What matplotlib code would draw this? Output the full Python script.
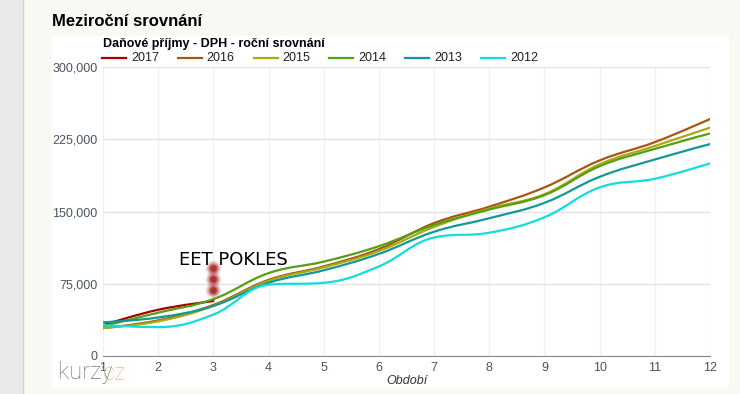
import matplotlib
matplotlib.use("Agg")
import matplotlib.pyplot as plt
from matplotlib.path import Path
from matplotlib.patches import PathPatch, Rectangle
from matplotlib.lines import Line2D
from matplotlib.ticker import FuncFormatter

# data (monthly cumulative VAT income)
months = [1, 2, 3, 4, 5, 6, 7, 8, 9, 10, 11, 12]
years = ["2017", "2016", "2015", "2014", "2013", "2012"]
v2017 = [32000, 48000, 57000]
v2016 = [29000, 37000, 53000, 79000, 93000, 111000, 138000, 155000, 175000, 203000, 222000, 246000]
v2015 = [29000, 36000, 52000, 78000, 92000, 109000, 134000, 153000, 168000, 199000, 218000, 237000]
v2014 = [31000, 45000, 59000, 86000, 98000, 114000, 136000, 152000, 167000, 197000, 215000, 231000]
v2013 = [35000, 40000, 52000, 76000, 89000, 106000, 129000, 143000, 159000, 186000, 204000, 220000]
v2012 = [32000, 30000, 43000, 74000, 76000, 93000, 123000, 128000, 144000, 175000, 184000, 200000]
series = [v2017, v2016, v2015, v2014, v2013, v2012]
colors = ["#a80000", "#aa5510", "#aaaa10", "#55a010", "#119999", "#11dddd"]
note_x = 3
note_y = [91000, 80000, 68000]


def spline_path(xs, ys):
    # Highcharts-like spline (smoothing 1.5)
    n = len(xs)
    left, right = [], []
    for i in range(n):
        x, y = xs[i], ys[i]
        if i == 0 or i == n - 1:
            left.append((x, y)); right.append((x, y)); continue
        lx = (1.5 * x + xs[i - 1]) / 2.5; ly = (1.5 * y + ys[i - 1]) / 2.5
        rx = (1.5 * x + xs[i + 1]) / 2.5; ry = (1.5 * y + ys[i + 1]) / 2.5
        corr = ((ry - ly) * (rx - x)) / (rx - lx) + y - ry
        ly += corr; ry += corr
        lo, hi = min(ys[i - 1], y), max(ys[i - 1], y)
        if ly > hi:
            ly = hi; ry = 2 * y - ly
        elif ly < lo:
            ly = lo; ry = 2 * y - ly
        lo, hi = min(ys[i + 1], y), max(ys[i + 1], y)
        if ry > hi:
            ry = hi; ly = 2 * y - ry
        elif ry < lo:
            ry = lo; ly = 2 * y - ry
        left.append((lx, ly)); right.append((rx, ry))
    verts = [(xs[0], ys[0])]
    codes = [Path.MOVETO]
    for i in range(1, n):
        verts += [right[i - 1], left[i], (xs[i], ys[i])]
        codes += [Path.CURVE4] * 3
    return Path(verts, codes)


fig = plt.figure(figsize=(7.4, 3.94), dpi=100)
fig.patch.set_facecolor("#f9f9f4")
W, H = 740, 394
fig.add_artist(Rectangle((0, 0), 22 / W, 1, transform=fig.transFigure, color="#e9e9e9", zorder=0))
fig.add_artist(Line2D([22.5 / W] * 2, [0, 1], transform=fig.transFigure, color="#d2d2d2", lw=1, zorder=0))
fig.add_artist(Rectangle((52 / W, (H - 386) / H), 676 / W, 350 / H, transform=fig.transFigure,
                         color="white", zorder=0))

ax = fig.add_axes([103 / W, (H - 356) / H, 607 / W, 289 / H])
ax.set_facecolor("white")
ax.set_xlim(1, 12)
ax.set_ylim(0, 300000)
ax.set_xticks(months)
ax.set_yticks([0, 75000, 150000, 225000, 300000])
ax.yaxis.set_major_formatter(FuncFormatter(lambda v, p: "{:,.0f}".format(v)))
ax.grid(axis="y", color="#e3e3e3", lw=1)
ax.grid(axis="x", color="#f1f1f1", lw=1)
ax.set_axisbelow(True)
for s in ["top", "right", "left"]:
    ax.spines[s].set_visible(False)
ax.spines["bottom"].set_color("#888888")
ax.tick_params(axis="both", length=0, labelsize=9, labelcolor="#4a5560")
ax.tick_params(axis="y", pad=4)
ax.tick_params(axis="x", pad=4)
for lab in ax.get_xticklabels() + ax.get_yticklabels():
    lab.set_family("Liberation Sans")
ax.set_xlabel("Období", style="italic", fontsize=9, color="#333333", family="Liberation Sans", labelpad=1)

for vals, c in zip(series, colors):
    xs = months[:len(vals)]
    ax.add_patch(PathPatch(spline_path(xs, vals), fill=False, edgecolor=c, lw=1.6, zorder=3,
                           capstyle="round", joinstyle="round"))

# blurred red markers
for a, s in [(0.12, 130), (0.22, 85), (0.4, 50), (0.7, 22)]:
    ax.scatter([note_x] * len(note_y), note_y, s=s, color="#a01818", alpha=a, lw=0, zorder=4)
ax.text(3.37, 100000, "EET POKLES", fontsize=13, family="DejaVu Sans", color="black",
        ha="center", va="center", zorder=5)

# titles
fig.text(52 / W, 1 - 22 / H, "Meziroční srovnání", fontsize=12, weight="bold",
         family="Liberation Sans", va="center", ha="left")
fig.text(103 / W, 1 - 44 / H, "Daňové příjmy - DPH - roční srovnání", fontsize=9, weight="bold",
         family="Liberation Sans", va="center", ha="left")

# legend
lx0 = 102
for i, (yr, c) in enumerate(zip(years, colors)):
    x = lx0 + i * 75.8
    fig.add_artist(Line2D([x / W, (x + 24) / W], [1 - 58 / H] * 2, transform=fig.transFigure,
                          color=c, lw=1.6))
    fig.text((x + 29) / W, 1 - 58 / H, yr, fontsize=9, family="Liberation Sans",
             color="#222222", va="center", ha="left")

# logo
fig.text(58 / W, 1 - 373 / H, "kurzy", fontsize=17, family="Roboto", weight="light",
         color="#7a7a7a", va="center", ha="left")
fig.text(103 / W, 1 - 373 / H, "cz", fontsize=17, family="Roboto", weight="light",
         color="#e8c57a", va="center", ha="left")

fig.savefig("out.png", dpi=100, facecolor=fig.get_facecolor())
